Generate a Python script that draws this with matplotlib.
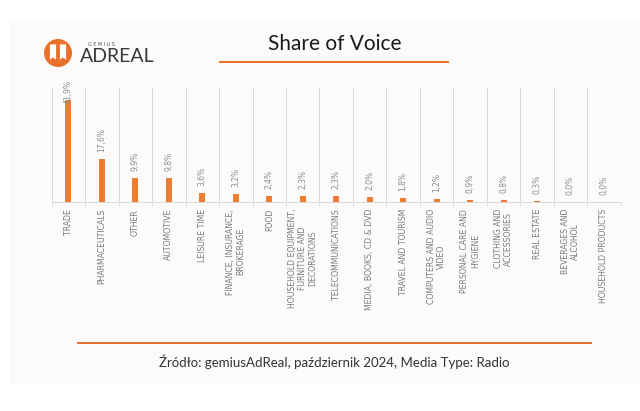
import matplotlib
matplotlib.use('Agg')
import matplotlib.pyplot as plt
from matplotlib.patches import Rectangle, Circle, FancyBboxPatch
import numpy as np

categories = ['TRADE', 'PHARMACEUTICALS', 'OTHER', 'AUTOMOTIVE', 'LEISURE TIME',
              'FINANCE, INSURANCE,\nBROKERAGE', 'FOOD',
              'HOUSEHOLD EQUIPMENT,\nFURNITURE AND\nDECORATIONS',
              'TELECOMMUNICATIONS', 'MEDIA, BOOKS, CD & DVD', 'TRAVEL AND TOURISM',
              'COMPUTERS AND AUDIO\nVIDEO', 'PERSONAL CARE AND\nHYGIENE',
              'CLOTHING AND\nACCESSORIES', 'REAL ESTATE', 'BEVERAGES AND\nALCOHOL',
              'HOUSEHOLD PRODUCTS']
shares = [41.9, 17.6, 9.9, 9.8, 3.6, 3.2, 2.4, 2.3, 2.3, 2.0, 1.8, 1.2, 0.9, 0.8, 0.3, 0.0, 0.0]
value_labels = ['41,9%', '17,6%', '9,9%', '9,8%', '3,6%', '3,2%', '2,4%', '2,3%', '2,3%',
                '2,0%', '1,8%', '1,2%', '0,9%', '0,8%', '0,3%', '0,0%', '0,0%']

title = 'Share of Voice'
source = 'Źródło: gemiusAdReal, październik 2024, Media Type: Radio'

orange = '#ED7D31'
gray = '#8c8c8c'
W, H = 640, 411

fig = plt.figure(figsize=(6.4, 4.11), dpi=100)
fig.patch.set_facecolor('white')

# background / decoration layer in pixel coords
bg = fig.add_axes([0, 0, 1, 1], zorder=0)
bg.set_xlim(0, W)
bg.set_ylim(H, 0)
bg.axis('off')
bg.add_patch(Rectangle((10, 21), 630, 362, facecolor='#fdfbf9', edgecolor='none'))

# logo
bg.add_patch(Circle((58, 53), 14, facecolor='#E8702A', edgecolor='none'))
bg.add_patch(FancyBboxPatch((50.5, 45), 5, 14, boxstyle='round,pad=0.6',
                            facecolor='white', edgecolor='none'))
bg.add_patch(FancyBboxPatch((60.5, 45), 5, 14, boxstyle='round,pad=0.6',
                            facecolor='white', edgecolor='none'))
bg.add_patch(Circle((53, 60), 2.2, facecolor='#E8702A', edgecolor='none'))
bg.add_patch(Circle((63, 60), 2.2, facecolor='#E8702A', edgecolor='none'))
bg.text(101, 44, 'G E M I U S', fontsize=3.5, color='#555555', ha='center', va='center',
        family='DejaVu Sans')
bg.text(117, 56, 'ADREAL', fontsize=14, color='#3a3a3a', ha='center', va='center',
        family='Lato')

# title
bg.text(335, 44, title, fontsize=15, color='#1a1a1a', ha='center', va='center',
        family='Lato')
bg.plot([219, 449], [62, 62], color='#E8702A', lw=1.4, solid_capstyle='butt')

# footer
bg.plot([77, 592], [343, 343], color='#E8702A', lw=1.4, solid_capstyle='butt')
bg.text(334, 362, source, fontsize=9.5, color='#333333', ha='center', va='center',
        family='Lato')

# main chart
ax = fig.add_axes([51.7 / W, 1 - 202 / H, (620.7 - 51.7) / W, (202 - 88) / H], zorder=1)
ax.patch.set_alpha(0)
x = np.arange(len(categories))
ax.bar(x, shares, width=0.18, color=orange, zorder=3)
ax.set_xlim(-0.5, len(categories) - 0.5)
ax.set_ylim(0, 46.7)

for xi, v, lab in zip(x, shares, value_labels):
    off = 5 if v < 40 else -3
    ax.annotate(lab, (xi, v), xytext=(0, off), textcoords='offset points',
                rotation=90, ha='center', va='bottom', fontsize=5.5, color=gray,
                zorder=4, annotation_clip=False)

ax.set_xticks(x)
ax.set_xticklabels(categories, rotation=90, fontsize=5.6, color='#7a7a7a',
                   ha='center', va='top', multialignment='center')
ax.tick_params(axis='x', which='major', length=0, pad=5)
ax.set_xticks(np.arange(len(categories) + 1) - 0.5, minor=True)
ax.tick_params(axis='x', which='minor', length=3, color='#d9d9d9')
ax.grid(axis='x', which='minor', color='#d9d9d9', lw=0.7, zorder=0)
ax.set_yticks([])
for s in ['top', 'left', 'right']:
    ax.spines[s].set_visible(False)
ax.spines['bottom'].set_color('#d9d9d9')
ax.spines['bottom'].set_linewidth(0.7)

plt.savefig('out.png', dpi=100)
plt.close()
